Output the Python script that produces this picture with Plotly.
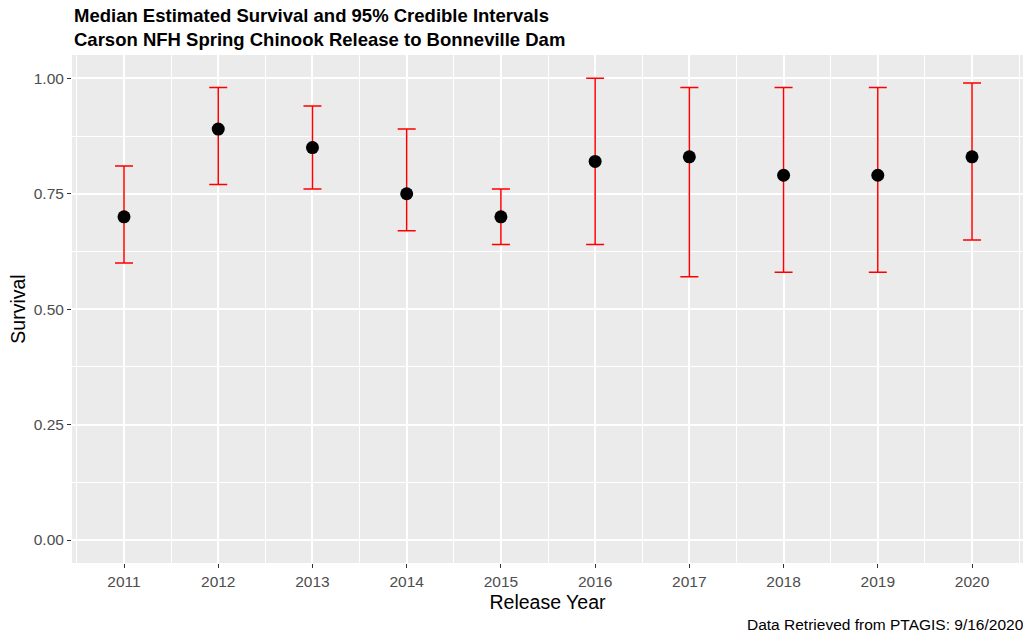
import plotly.graph_objects as go

# Release years and posterior summaries of survival to Bonneville Dam
years = [2011, 2012, 2013, 2014, 2015, 2016, 2017, 2018, 2019, 2020]
median_survival = [0.70, 0.89, 0.85, 0.75, 0.70, 0.82, 0.83, 0.79, 0.79, 0.83]
lower_95 = [0.60, 0.77, 0.76, 0.67, 0.64, 0.64, 0.57, 0.58, 0.58, 0.65]
upper_95 = [0.81, 0.98, 0.94, 0.89, 0.76, 1.00, 0.98, 0.98, 0.98, 0.99]

y_ticks = [0.00, 0.25, 0.50, 0.75, 1.00]

FONT = "Liberation Sans, Arial, sans-serif"
PANEL_BG = "#EBEBEB"
TICK_GREY = "#4D4D4D"

err_plus = [u - m for u, m in zip(upper_95, median_survival)]
err_minus = [m - l for m, l in zip(median_survival, lower_95)]

fig = go.Figure()
fig.add_trace(
    go.Scatter(
        x=years,
        y=median_survival,
        mode="markers",
        marker=dict(color="black", size=13, line=dict(width=0)),
        error_y=dict(
            type="data",
            symmetric=False,
            array=err_plus,
            arrayminus=err_minus,
            color="#FF0000",
            thickness=1.5,
            width=9,
        ),
        showlegend=False,
        hoverinfo="x+y",
    )
)

# half-year / eighth minor grid lines, as in a ggplot panel
x_minor = [y - 0.5 for y in years] + [years[-1] + 0.5]
y_minor = [0.125, 0.375, 0.625, 0.875]

fig.update_layout(
    width=1023,
    height=638,
    margin=dict(l=72, r=0, t=55, b=75),
    paper_bgcolor="white",
    plot_bgcolor=PANEL_BG,
    font=dict(family=FONT, color="black"),
    xaxis=dict(
        range=[2010.448, 2020.541],
        tickmode="array",
        tickvals=years,
        ticktext=[str(y) for y in years],
        ticks="outside",
        ticklen=4,
        tickwidth=1.2,
        tickcolor="#333333",
        tickfont=dict(family=FONT, size=15.5, color=TICK_GREY),
        showgrid=True,
        gridcolor="white",
        gridwidth=1.5,
        zeroline=False,
        showline=False,
        minor=dict(tickvals=x_minor, showgrid=True, gridcolor="white",
                   gridwidth=0.8, ticks=""),
        title=dict(text="Release Year", font=dict(family=FONT, size=19.5,
                                                  color="black"), standoff=6),
    ),
    yaxis=dict(
        range=[-0.0498, 1.0505],
        tickmode="array",
        tickvals=y_ticks,
        ticktext=[f"{v:.2f}" for v in y_ticks],
        ticks="outside",
        ticklen=4,
        tickwidth=1.2,
        tickcolor="#333333",
        tickfont=dict(family=FONT, size=15.5, color=TICK_GREY),
        showgrid=True,
        gridcolor="white",
        gridwidth=1.5,
        zeroline=False,
        showline=False,
        minor=dict(tickvals=y_minor, showgrid=True, gridcolor="white",
                   gridwidth=0.8, ticks=""),
        title=dict(text="Survival", font=dict(family=FONT, size=19.5,
                                              color="black"), standoff=2),
    ),
    annotations=[
        dict(
            text=("<b>Median Estimated Survival and 95% Credible Intervals"
                  "<br>Carson NFH Spring Chinook Release to Bonneville Dam</b>"),
            xref="paper", yref="paper", x=0, y=1.0551,
            xanchor="left", yanchor="middle", align="left", showarrow=False,
            font=dict(family=FONT, size=18.5, color="black"),
        ),
        dict(
            text="Data Retrieved from PTAGIS: 9/16/2020",
            xref="paper", yref="paper", x=1.003, y=-0.1220,
            xanchor="right", yanchor="middle", showarrow=False,
            font=dict(family=FONT, size=15.5, color="black"),
        ),
    ],
)

fig.write_html("out.html")
